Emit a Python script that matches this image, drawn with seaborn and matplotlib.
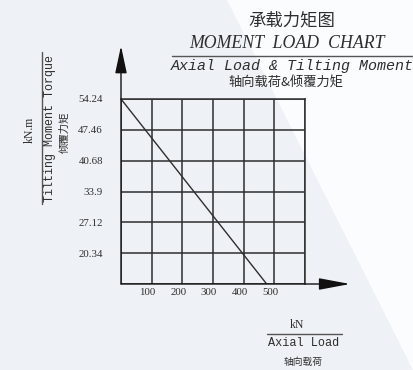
import matplotlib
matplotlib.use("Agg")
import matplotlib.pyplot as plt
import matplotlib.transforms as mtransforms
from matplotlib.patches import Polygon
import seaborn as sns
import pandas as pd

# ---- data ----
axial_load = [0, 475]                 # kN
tilting_moment = [54.24, 13.56]       # kN.m
x_ticks = [100, 200, 300, 400, 500]
y_ticks = [54.24, 47.46, 40.68, 33.9, 27.12, 20.34]
y_tick_labels = ["54.24", "47.46", "40.68", "33.9", "27.12", "20.34"]
x_limits = [0, 600]
y_limits = [13.56, 54.24]

sns.set_theme(style="white")
plt.rcParams['font.family'] = ['Liberation Serif', 'Noto Sans CJK SC', 'DejaVu Sans']

W, H = 413, 370
fig = plt.figure(figsize=(W / 100, H / 100), dpi=100)
fig.patch.set_facecolor("#eef1f5")

def fx(px):
    return px / W

def fy(py):
    return 1 - py / H

# white diagonal region in background
fig.patches.append(Polygon([(fx(227), fy(0)), (fx(413), fy(0)), (fx(413), fy(370))],
                           closed=True, transform=fig.transFigure, facecolor="#fbfcfd",
                           edgecolor="none", zorder=-10))

ink = "#2e2e2e"
ax = fig.add_axes([fx(121), fy(284), (305 - 121) / W, (284 - 99) / H])
ax.set_facecolor("none")
ax.set_zorder(1)

df = pd.DataFrame({"Axial Load": axial_load, "Tilting Moment": tilting_moment})
sns.lineplot(data=df, x="Axial Load", y="Tilting Moment", ax=ax, color=ink, linewidth=1.0)

ax.set_xlim(*x_limits)
ax.set_ylim(*y_limits)
ax.set_xticks(list(range(0, 601, 100)))
ax.set_xticklabels([""] + [str(v) for v in x_ticks] + [""])
ax.set_yticks(y_limits[:1] + y_ticks[::-1])
ax.set_yticklabels([""] + y_tick_labels[::-1])
ax.grid(True, color=ink, linewidth=1.1)
ax.set_xlabel("")
ax.set_ylabel("")
for s in ["left", "bottom"]:
    ax.spines[s].set_visible(False)
for s in ["top", "right"]:
    ax.spines[s].set_visible(True)
    ax.spines[s].set_color(ink)
    ax.spines[s].set_linewidth(1.1)
ax.tick_params(axis="both", length=0, labelsize=7.8, colors=ink)
ax.tick_params(axis="y", pad=13)
ax.tick_params(axis="x", pad=3)
offset = mtransforms.ScaledTranslation(-4 / 100, 0, fig.dpi_scale_trans)
for lbl in ax.get_xticklabels():
    lbl.set_transform(lbl.get_transform() + offset)

# axes with arrows
ax.annotate("", xy=(fx(350), fy(284)), xytext=(fx(121), fy(284)),
            xycoords="figure fraction", textcoords="figure fraction",
            arrowprops=dict(arrowstyle="-|>,head_length=1.6,head_width=0.3", color="#111",
                            lw=1.0, shrinkA=0, shrinkB=0))
ax.annotate("", xy=(fx(121), fy(46)), xytext=(fx(121), fy(284)),
            xycoords="figure fraction", textcoords="figure fraction",
            arrowprops=dict(arrowstyle="-|>,head_length=1.4,head_width=0.3", color="#111",
                            lw=1.0, shrinkA=0, shrinkB=0))

# titles
fig.text(fx(292), fy(20), "承载力矩图", ha="center", va="center", fontsize=12.5, color=ink,
         family=['Noto Sans CJK SC'])
fig.text(fx(287), fy(44), "MOMENT  LOAD  CHART", ha="center", va="center", fontsize=12.8,
         color=ink, family=['Liberation Serif'], style="italic")
fig.add_artist(plt.Line2D([fx(172), fx(413)], [fy(56), fy(56)], color="#555", lw=1.0,
                          transform=fig.transFigure))
fig.text(fx(292), fy(66), "Axial Load & Tilting Moment", ha="center", va="center",
         fontsize=10.8, color=ink, family=['Liberation Mono'], style="italic")
fig.text(fx(286), fy(83), "轴向载荷&倾覆力矩", ha="center", va="center", fontsize=9.5,
         color=ink, family=['Noto Sans CJK SC'])

# y label
fig.text(fx(30), fy(130), "kN.m", ha="center", va="center", rotation=90, fontsize=8.5,
         color=ink, family=['Liberation Serif'])
fig.add_artist(plt.Line2D([fx(42), fx(42)], [fy(52), fy(204)], color="#555", lw=1.0,
                          transform=fig.transFigure))
fig.text(fx(50), fy(128), "Tilting Moment Torque", ha="center", va="center", rotation=90,
         fontsize=8.4, color=ink, family=['Liberation Mono'])
fig.text(fx(65), fy(132), "倾覆力矩", ha="center", va="center", rotation=90, fontsize=7.5,
         color=ink, family=['Noto Sans CJK SC'])

# x label
fig.text(fx(297), fy(325), "kN", ha="center", va="center", fontsize=8.5, color=ink,
         family=['Liberation Serif'])
fig.add_artist(plt.Line2D([fx(267), fx(342)], [fy(334), fy(334)], color="#555", lw=1.0,
                          transform=fig.transFigure))
fig.text(fx(304), fy(343), "Axial Load", ha="center", va="center", fontsize=8.6, color=ink,
         family=['Liberation Mono'])
fig.text(fx(303), fy(362), "轴向载荷", ha="center", va="center", fontsize=7, color=ink,
         family=['Noto Sans CJK SC'])

fig.savefig("out.png", dpi=100, facecolor=fig.get_facecolor())
